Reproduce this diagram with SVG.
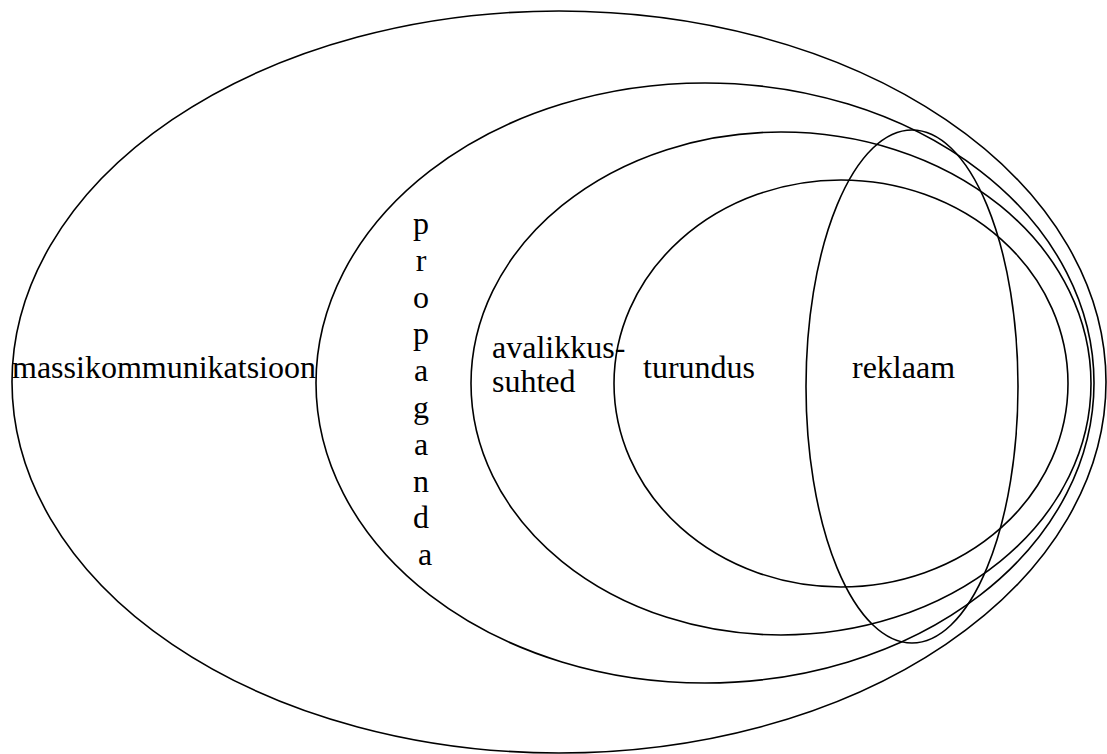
<svg xmlns="http://www.w3.org/2000/svg" width="1107" height="754" viewBox="0 0 1107 754">
<style>
.e{fill:none;stroke:#000;stroke-width:1.6}
text{font-family:'Liberation Serif','Times New Roman',Times,serif;font-size:32px;fill:#000}
</style>
<rect width="1107" height="754" fill="#fff"/>
<g id="massikommunikatsioon">
<ellipse class="e" cx="559" cy="382" rx="547" ry="371"/>
<text x="12" y="378">massikommunikatsioon</text>
</g>
<g id="propaganda">
<ellipse class="e" cx="705" cy="383" rx="389" ry="300"/>
<text text-anchor="middle">
<tspan x="425" y="234">p</tspan>
<tspan x="425" y="270.8">r</tspan>
<tspan x="425" y="307.6">o</tspan>
<tspan x="425" y="344.4">p</tspan>
<tspan x="425" y="381.2">a</tspan>
<tspan x="425" y="418">g</tspan>
<tspan x="425" y="454.8">a</tspan>
<tspan x="425" y="491.6">n</tspan>
<tspan x="425" y="528.4">d</tspan>
<tspan x="425" y="565.2">a</tspan>
</text>
</g>
<g id="avalikkussuhted">
<ellipse class="e" cx="781" cy="383.5" rx="310" ry="251.5"/>
<text><tspan x="492" y="358">avalikkus-</tspan><tspan x="492" y="392">suhted</tspan></text>
</g>
<g id="turundus">
<ellipse class="e" cx="841" cy="383.5" rx="227" ry="203.5"/>
<text x="643" y="378">turundus</text>
</g>
<g id="reklaam">
<ellipse class="e" cx="912" cy="386.5" rx="106" ry="256.5"/>
<text x="852" y="378">reklaam</text>
</g>
<g id="connectors"/>
</svg>
